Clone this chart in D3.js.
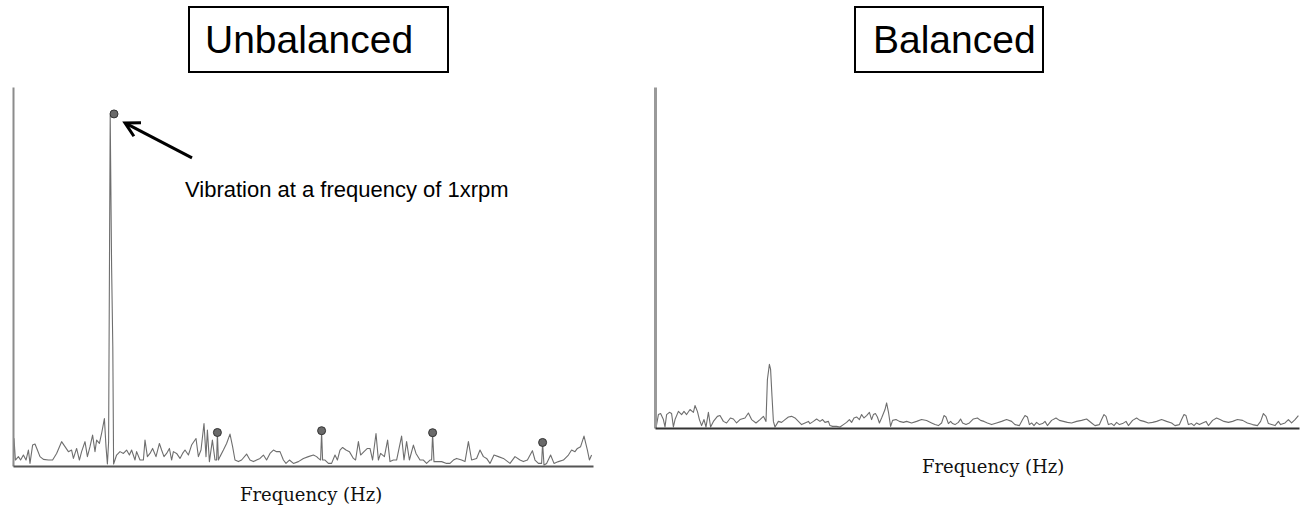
<!DOCTYPE html>
<html>
<head>
<meta charset="utf-8">
<script src="https://cdn.jsdelivr.net/npm/d3@7/dist/d3.min.js"></script>
<style>
  html, body { margin: 0; padding: 0; background: #fff; }
  svg { display: block; }
</style>
</head>
<body>
<svg id="chart" width="1308" height="510"></svg>
<script>
// Unbalanced rotor spectrum: frequency (Hz) and amplitude samples
const unbalancedFreq = [0.2,0.5,1.2,2.7,3.8,5.2,6.5,7.7,8.5,9.8,11,12.2,13.5,15.2,17.7,19.8,21.8,24.3,26,27.7,29.3,30.2,31.8,33.2,34.3,36,37.2,38.5,39.8,41,41.8,43.2,44.3,45.7,46.5,47.2,47.8,48.6,49.3,49.9,50.3,
  51.8,53.5,55.2,56.8,58.2,59.3,61,61.8,63.5,65.2,66,67.2,68.5,69.8,71.5,73.2,74.3,75.5,76.8,78.2,79.3,80.2,81.8,83.5,84.8,86,87.7,89.3,91.5,92.7,94,95.5,96.5,97.2,98.2,99.7,101,101.8,102.2,102.7,
  103.5,105.2,106.8,108.5,109.8,111,112.7,114.3,116.8,118.5,120.2,121.8,123.5,125.2,126.8,128.5,130.2,131.8,133.5,135.2,136.5,138.2,140.2,142.7,145.2,147.7,150.2,151.8,152.7,153.8,154.3,154.8,
  156,157.7,159.3,161,162.2,163.5,164.8,166.5,168.2,170.2,171.3,172.7,173.8,175.5,177.2,178.5,179.8,181.5,182.7,183.8,185.7,187.3,188.5,190.2,191.8,194.3,195.5,196.8,198.2,200.2,201.5,203.5,205.2,206.8,208.5,209.3,209.8,210.5,
  211.8,214.3,216.8,218.5,220.2,221.8,224.3,226,227.7,229.3,231.8,233.5,235.2,236.8,238.5,240.5,242.7,245.2,248.5,251,253.5,255.2,257.2,259.7,261,262.7,264.3,264.8,265.5,
  266.8,268.8,270.5,272.7,275.2,277.7,279.3,281,282.2,283.8,285.5,287.2,288.2,289.3];
const unbalancedAmp = [0,13.8,3,4.7,3,5.5,3,8,1.3,10.5,11,8,4.7,3.3,3,3,6.3,12.2,9.7,7.2,8,3.8,8.8,3,7.2,12.2,4.7,9.7,15.5,7.2,13,11.3,16.3,23.8,9.7,1,12,176,100,60,1,
  5.5,7.2,6.3,8,5.5,8,3,7.2,3,3,13,4.7,6.3,8.8,4.7,11.3,8,4.7,6.3,8.8,3,7.2,6.3,3.8,6.3,8,5.5,10.5,13.8,4.7,8,21.3,4.7,18,2.2,13,3,3,16.2,3,
  4.7,8,11.3,16,9.7,3,2.2,3,6,3,2.2,3,3.8,5.5,3,6.3,8,7.2,7.2,3,1.3,3,1.3,2.2,3.8,4.7,5.5,4.7,3.8,3,17,3,
  3,1.3,1.3,5.5,3,8,9.3,8,7.2,3.8,3,12.2,5.5,7.2,8.8,8.8,3,16.3,3,6.3,4.7,13,2.2,3,3,15,3,12.2,3,10.5,6.3,3,3,1.3,3,3,16.2,2.2,
  2.2,2.2,1.3,1.3,3,3.8,3,2.2,12.2,3,3.8,8,4.7,3.8,1.3,5.5,4.7,3.8,1.3,4.7,3,2.2,3,7.7,3,1.3,1.3,11.5,0.5,
  1.3,5.5,1.3,2.2,3,5.5,8,7.2,8.8,9.7,15,8,3,5.5];

// Harmonic markers at 1x, 2x, 3x, 4x and 5x running speed
const markerFreq = [50.5, 102.2, 154.3, 209.8, 264.8];
const markerAmp = [176.5, 16.8, 17.7, 16.7, 11.8];

// Balanced rotor spectrum
const balancedFreq = [0.5,1.7,2.8,4.2,5,5.8,7.2,8.3,9.2,10,11.7,13.3,14.5,15.8,17.5,19.2,20,21.2,22.2,23.3,24.5,25.5,26.7,27.8,29.2,31.2,32.5,34.2,35.8,37.7,39.2,40.8,42.5,45,46.7,48.3,50.5,52.5,54.2,55.5,56.2,57.2,57.8,58.5,59.2,60,
  61.7,63.3,65,66.7,68.3,70,71.7,73.3,75,76.7,77.5,79.2,80.8,82.5,83.8,85,86.7,87.5,88.8,90.8,92.5,94.2,95.8,97.2,98.3,99.5,100.8,102.2,103.3,104.5,105.8,107.2,108.3,109.2,110.2,111.2,112.2,113.3,115,115.8,116.8,117.8,118.8,
  120.5,122.2,124.2,125.8,128.3,130.8,133.3,135.8,138.3,140,141.7,143.3,144.5,145.5,146.7,147.8,148.8,150,151.7,152.8,153.8,155.5,157.2,159.2,161.2,162.8,164.5,166.2,168.3,170.8,173.3,175.8,178.3,180,182.2,183.8,185,186.2,187.2,188.3,189.5,190.8,192.2,193.8,195,196.2,198.3,
  200.5,202.2,204.2,206.2,208.3,210.8,213.3,215.8,218.3,220,222.2,223.3,224.5,225.5,226.7,228.3,229.5,230.8,232.2,233.8,235.5,236.7,238.8,240.8,242.5,244.5,246.7,248.8,250.8,253.3,255.8,258.3,260,262.2,263.3,264.5,265.5,266.7,268.3,269.5,
  270.8,272.2,273.8,275.5,276.7,278.8,280.8,282.5,284.5,286.7,288.8,291.2,293.8,296.2,298.8,301.2,302.8,304.2,305.5,306.7,308.3,310,311.7,312.8,315,316.7,318.3,320,321.7];
const balancedAmp = [0,6.7,7.2,4.2,0.5,6.7,7.8,7.2,0.5,4.2,8.3,6.7,8.3,6.7,9.2,7.8,11.2,8.3,4.2,1.2,4.2,0.5,7.8,0.5,3.3,5.8,6.2,3.3,2.5,5,4.5,2.5,4.2,5,7.5,4.2,2.5,4.2,5.8,3.3,24.2,31.7,29.2,15.8,3.3,0.5,
  3.3,2.8,4.2,5.5,5.8,5,3.3,1.7,2.5,3.3,2.2,3.3,4.5,3.3,4.2,2.8,3.3,1.2,0.8,0.8,0.5,1.7,2.8,4.2,2.8,5,5.5,4.2,6.7,5,6.2,7.8,4.2,6.7,7.2,5.5,2.5,5,9.2,12.5,7.5,0.8,3.8,
  4.2,3.3,2.8,3.3,2.5,3.3,4.2,3.7,2.5,1.7,1.2,2.5,6.2,5.5,2.2,3.3,2.2,1.7,2.8,4.5,2.5,1.7,2.5,4.5,5,3.8,3.3,2.5,1.7,2.5,3.3,4.2,3.3,1.7,1.2,4.2,6.2,5.5,1.7,2.5,1.2,2.8,1.7,2.2,3.3,1.2,3.8,
  5,3.8,3.3,2.8,2.5,3.3,3.8,4.5,2.5,1.2,1.7,4.2,6.7,5.8,1.7,2.2,1.2,2.8,1.7,2.2,3.3,1.2,3.8,5,3.8,3.3,2.5,2.8,3.3,4.2,3.3,2.5,1.2,1.7,4.2,6.7,6.2,1.7,2.2,1.2,
  2.5,1.7,2.5,3.3,1.2,3.8,5,4.2,3.3,2.8,3.3,4.2,3.8,2.5,1.7,1.2,3.3,7.2,5.8,2.2,1.7,1.2,3.3,1.7,2.5,4.2,2.5,4.2,6.2];

const panelTitles = ["Unbalanced", "Balanced"];
const annotationText = "Vibration at a frequency of 1xrpm";
const xAxisLabel = "Frequency (Hz)";

const svg = d3.select("#chart");

// ---- Scales ----
const xL = d3.scaleLinear().domain([0, 290]).range([13, 593]);
const yL = d3.scaleLinear().domain([0, 190]).range([466, 87]);
const xR = d3.scaleLinear().domain([0, 322]).range([655, 1299]);
const yR = d3.scaleLinear().domain([0, 170]).range([428, 87]);

// ---- Title boxes ----
function titleBox(x, y, w, h, tx, label) {
  svg.append("rect")
    .attr("x", x).attr("y", y).attr("width", w).attr("height", h)
    .attr("fill", "#fff").attr("stroke", "#000").attr("stroke-width", 2);
  svg.append("text")
    .attr("x", tx).attr("y", y + 46)
    .attr("font-family", "'Liberation Sans', Arial, sans-serif")
    .attr("font-size", 39)
    .attr("fill", "#000")
    .text(label);
}
titleBox(189, 7, 259, 65, 205, panelTitles[0]);
titleBox(855, 7, 188, 65, 873, panelTitles[1]);

// ---- Axes (no ticks, only the axis lines) ----
function axisLines(x, y, yColor, yWidth, xColor, xWidth) {
  const gy = svg.append("g").attr("transform", `translate(${x.range()[0]},0)`)
    .call(d3.axisLeft(y).ticks(0).tickSizeOuter(0));
  gy.select(".domain").attr("stroke", yColor).attr("stroke-width", yWidth);
  const gx = svg.append("g").attr("transform", `translate(0,${y.range()[0]})`)
    .call(d3.axisBottom(x).ticks(0).tickSizeOuter(0));
  gx.select(".domain").attr("stroke", xColor).attr("stroke-width", xWidth);
}

// ---- Spectrum traces ----
function trace(freq, amp, x, y) {
  const pts = freq.map((f, i) => [f, amp[i]]);
  const line = d3.line().x(d => x(d[0])).y(d => y(d[1]));
  svg.append("path")
    .datum(pts)
    .attr("d", line)
    .attr("fill", "none")
    .attr("stroke", "#6e6e6e")
    .attr("stroke-width", 1.1)
    .attr("stroke-linejoin", "round");
}

trace(unbalancedFreq, unbalancedAmp, xL, yL);
trace(balancedFreq, balancedAmp, xR, yR);
axisLines(xL, yL, "#8c8c8c", 2, "#555", 2);
axisLines(xR, yR, "#9a9a9a", 3, "#333", 2);

// ---- Harmonic markers ----
svg.append("g").selectAll("circle")
  .data(markerFreq.map((f, i) => [f, markerAmp[i]]))
  .join("circle")
  .attr("cx", d => xL(d[0]))
  .attr("cy", d => yL(d[1]))
  .attr("r", 4)
  .attr("fill", "#6a6a6a")
  .attr("stroke", "#333")
  .attr("stroke-width", 1);

// ---- Annotation arrow pointing at the 1x peak ----
const tip = [xL(markerFreq[0]) + 11, yL(markerAmp[0]) + 9];
const tail = [tip[0] + 67, tip[1] + 35];
const ang = Math.atan2(tail[1] - tip[1], tail[0] - tip[0]);
const headLen = 16, headSpread = 0.5;
svg.append("line")
  .attr("x1", tail[0]).attr("y1", tail[1])
  .attr("x2", tip[0] + 2 * Math.cos(ang)).attr("y2", tip[1] + 2 * Math.sin(ang))
  .attr("stroke", "#000").attr("stroke-width", 3);
svg.append("path")
  .attr("d", `M${tip[0] + headLen * Math.cos(ang - headSpread)},${tip[1] + headLen * Math.sin(ang - headSpread)}
              L${tip[0]},${tip[1]}
              L${tip[0] + headLen * Math.cos(ang + headSpread)},${tip[1] + headLen * Math.sin(ang + headSpread)}`)
  .attr("fill", "none").attr("stroke", "#000").attr("stroke-width", 3)
  .attr("stroke-linejoin", "miter");

svg.append("text")
  .attr("x", 185).attr("y", 197)
  .attr("font-family", "'Liberation Sans', Arial, sans-serif")
  .attr("font-size", 22)
  .attr("fill", "#000")
  .text(annotationText);

// ---- X axis labels ----
svg.append("text")
  .attr("x", 240).attr("y", 501)
  .attr("font-family", "'DejaVu Serif', serif")
  .attr("font-size", 18)
  .attr("fill", "#111")
  .text(xAxisLabel);
svg.append("text")
  .attr("x", 922).attr("y", 473)
  .attr("font-family", "'DejaVu Serif', serif")
  .attr("font-size", 18)
  .attr("fill", "#111")
  .text(xAxisLabel);
</script>
</body>
</html>
